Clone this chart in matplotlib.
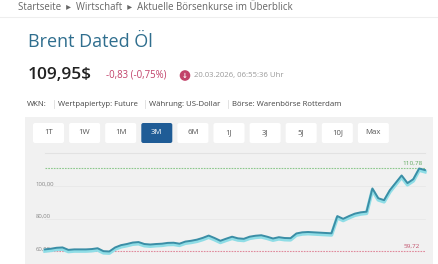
import numpy as np
import matplotlib
matplotlib.use("Agg")
import matplotlib.pyplot as plt
from matplotlib.patches import Rectangle, FancyBboxPatch, Circle
import matplotlib.patheffects as pe

plt.rcParams['font.family'] = ['Open Sans', 'DejaVu Sans']

# data (3M price series, USD)
prices = [61.0, 61.4, 62.0, 62.2, 60.7, 61.0, 61.0, 61.0, 61.2, 61.7,
          59.9, 59.72, 62.2, 63.6, 64.3, 65.2, 65.5, 64.3, 64.0, 64.3,
          64.5, 65.0, 65.1, 64.5, 65.8, 66.3, 67.0, 68.1, 69.5, 68.0,
          66.3, 67.6, 68.8, 67.8, 67.5, 68.8, 69.4, 69.7, 68.8, 67.7,
          68.5, 68.0, 67.9, 70.8, 71.5, 71.7, 71.5, 71.3, 71.1, 70.9,
          81.5, 79.8, 81.5, 83.0, 83.8, 84.2, 98.5, 92.5, 91.3, 97.5,
          102.0, 106.5, 101.8, 104.2, 110.78, 109.8]
high = 110.78
low = 59.72
yticks = [60, 80, 100]
ytick_labels = ["60,00", "80,00", "100,00"]
periods = ["1T", "1W", "1M", "3M", "6M", "1J", "3J", "5J", "10J", "Max"]
active = "3M"

W, H = 439, 264
fig = plt.figure(figsize=(W / 100, H / 100), dpi=100)
fig.patch.set_facecolor("white")

# page layer in pixel coordinates
pg = fig.add_axes([0, 0, 1, 1])
pg.set_xlim(0, W)
pg.set_ylim(H, 0)
pg.axis("off")

pg.plot([0, W], [17, 17], color="#eeeeee", lw=0.8)
pg.text(18, 7, "Startseite  ▸  Wirtschaft  ▸  Aktuelle Börsenkurse im Überblick",
        fontsize=6.9, color="#666666", va="center")
pg.text(28, 42, "Brent Dated Öl", fontsize=13, color="#2f6e8e", va="center")
pg.text(28, 75, "109,95$", fontsize=12.5, color="#222222", va="center", fontweight="semibold")
pg.text(106, 75, "-0,83 (-0,75%)", fontsize=6.9, color="#c2426a", va="center")
pg.add_patch(Circle((185, 75.5), 4.6, color="#c2426a"))
pg.text(185, 75.8, "↓", fontsize=5, color="white", ha="center", va="center",
        fontweight="bold", family="DejaVu Sans")
pg.text(194, 75, "20.03.2026, 06:55:36 Uhr", fontsize=5.6, color="#999999", va="center")

info = [(27, "WKN:"), (58, "Wertpapiertyp: Future"), (149, "Währung: US-Dollar"),
        (232, "Börse: Warenbörse Rotterdam")]
for x, s in info:
    pg.text(x, 104, s, fontsize=5.6, color="#444444", va="center")
for x in [54, 145, 228]:
    pg.plot([x, x], [100, 108], color="#dddddd", lw=0.6)

# grey panel
pg.add_patch(Rectangle((25, 117), 408, H - 117, color="#f1f1f1", lw=0))
pg.plot([45, 425], [153, 153], color="#e2e2e2", lw=0.8)
for k, p in enumerate(periods):
    x0 = 33 + 36.1 * k
    on = p == active
    pg.add_patch(FancyBboxPatch((x0, 123), 31, 20, boxstyle="round,pad=0,rounding_size=2",
                                fc="#1f5c96" if on else "white", ec="none"))
    pg.text(x0 + 15.5, 133, p, fontsize=5.6, ha="center", va="center",
            color="white" if on else "#555555")

# chart axes: spans px 25..433 horizontally, 155..264 vertically
ax = fig.add_axes([25 / W, 0, 408 / W, (H - 155) / H])
ax.patch.set_alpha(0)
n = len(prices)
xs = np.arange(n)
ax.set_xlim(-20 / 5.846, (n - 1) + 8 / 5.846)
ax.set_ylim(52, 119.08)
for s in ax.spines.values():
    s.set_visible(False)
ax.set_xticks([])
ax.set_yticks([])

for v, lab in zip(yticks, ytick_labels):
    if v != 60:
        ax.plot([xs[0], xs[-1]], [v, v], color="#e8e8e8", lw=0.6, zorder=1)
    ax.annotate(lab, (0, v), xycoords=("axes fraction", "data"), xytext=(7.5, 1.5),
                textcoords="offset points", fontsize=4.3, color="#888888", va="center")

ax.plot([xs[0], xs[-1]], [high, high], color="#8cc88c", lw=0.8, ls=(0, (1.5, 1)), zorder=2)
ax.plot([xs[0], xs[-1]], [low, low], color="#e08a9c", lw=0.8, ls=(0, (1.5, 1)), zorder=2)
ax.annotate("110,78", (xs[-2], high), xytext=(-5, 3.5), textcoords="offset points",
            fontsize=4.6, color="#5fa85f", ha="center", va="center")
ax.annotate("59,72", (xs[-2], low), xytext=(-5, 3.5), textcoords="offset points",
            fontsize=4.6, color="#c0506a", ha="center", va="center")

ax.plot(xs, prices, color="#3b8ea6", lw=1.4, zorder=3,
        path_effects=[pe.SimpleLineShadow(offset=(0, -1.2), shadow_color="#8fdde6",
                                          alpha=1, linewidth=2.6), pe.Normal()])

fig.savefig("out.png", dpi=100)
